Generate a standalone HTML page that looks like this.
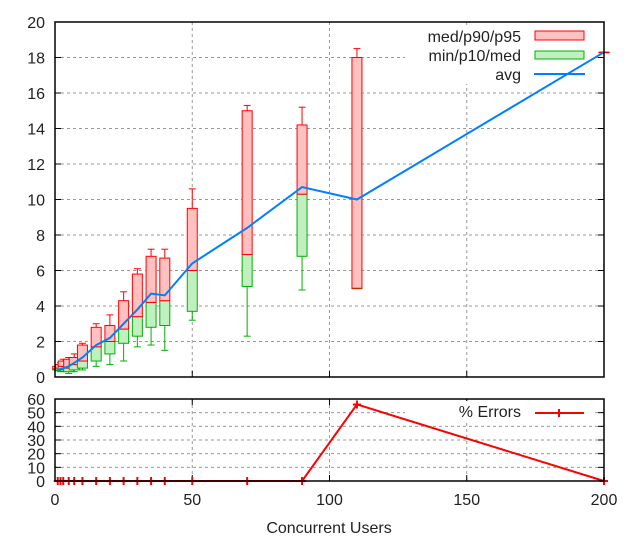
<!DOCTYPE html>
<html><head><meta charset="utf-8"><style>
html,body{margin:0;padding:0;background:#fff}
svg{display:block;font-family:"Liberation Sans","DejaVu Sans",sans-serif}
text{font-size:16px;fill:#222}
</style></head><body>
<svg id="c" width="640" height="540" viewBox="0 0 640 540"></svg>
<script>
const users=[1,2,3,5,7,10,15,20,25,30,35,40,50,70,90,110,200];
const minV=[0.35,0.3,0.3,0.2,0.3,0.4,0.6,0.7,0.9,1.7,1.8,1.5,3.2,2.3,4.9,5.0,18.3];
const p10V=[0.4,0.4,0.4,0.3,0.4,0.5,0.9,1.3,1.9,2.3,2.8,2.9,3.7,5.1,6.8,5.0,18.3];
const medV=[0.45,0.5,0.6,0.5,0.7,0.9,1.7,2.0,2.7,3.4,4.2,4.3,6.0,6.9,10.3,5.0,18.3];
const p90V=[0.6,0.7,0.9,1.0,1.1,1.8,2.8,2.9,4.3,5.8,6.8,6.7,9.5,15.0,14.2,18.0,18.3];
const p95V=[0.7,0.8,1.0,1.1,1.3,1.9,3.0,3.5,4.8,6.1,7.2,7.2,10.6,15.3,15.2,18.5,18.3];
const avgV=[0.4,0.45,0.5,0.6,0.8,1.1,1.8,2.2,3.0,3.8,4.7,4.6,6.4,8.4,10.7,10.0,18.3];
const errV=[0,0,0,0,0,0,0,0,0,0,0,0,0,0,0,56,0];
const xTicks=[0,50,100,150,200];
const yTicks=[0,2,4,6,8,10,12,14,16,18,20];
const eTicks=[0,10,20,30,40,50,60];

const NS="http://www.w3.org/2000/svg";
const svg=document.getElementById('c');
function el(t,a,p){const e=document.createElementNS(NS,t);for(const k in a)e.setAttribute(k,a[k]);(p||svg).appendChild(e);return e;}
const L=55,R=604,T=22,B=377,ET=399,EB=481;
const X=v=>L+(v/200)*(R-L);
const Y=v=>B-(v/20)*(B-T);
const EY=v=>EB-(v/60)*(EB-ET);

// grids
yTicks.forEach(t=>{if(t>0&&t<20){const g=el('line',{x1:L,x2:R,y1:Y(t),y2:Y(t),stroke:'#999','stroke-dasharray':'3,3','stroke-width':1});}
 const l=el('text',{x:L-10,y:Y(t)+6,'text-anchor':'end'});l.textContent=t;
 el('line',{x1:L,x2:L+6,y1:Y(t),y2:Y(t),stroke:'#000'});el('line',{x1:R,x2:R-6,y1:Y(t),y2:Y(t),stroke:'#000'});});
xTicks.forEach(t=>{if(t>0&&t<200){const g=el('line',{x1:X(t),x2:X(t),y1:T,y2:B,stroke:'#999','stroke-dasharray':'3,3'});
 const g2=el('line',{x1:X(t),x2:X(t),y1:ET,y2:EB,stroke:'#999','stroke-dasharray':'3,3'});}
 el('line',{x1:X(t),x2:X(t),y1:B,y2:B-6,stroke:'#000'});el('line',{x1:X(t),x2:X(t),y1:EB,y2:EB-6,stroke:'#000'});el('line',{x1:X(t),x2:X(t),y1:ET,y2:ET+6,stroke:'#000'});
 const l=el('text',{x:X(t),y:EB+24,'text-anchor':'middle'});l.textContent=t;});
eTicks.forEach(t=>{if(t>0&&t<60){el('line',{x1:L,x2:R,y1:EY(t),y2:EY(t),stroke:'#999','stroke-dasharray':'3,3'});}
 const l=el('text',{x:L-10,y:EY(t)+6,'text-anchor':'end'});l.textContent=t;
 el('line',{x1:L,x2:L+6,y1:EY(t),y2:EY(t),stroke:'#000'});el('line',{x1:R,x2:R-6,y1:EY(t),y2:EY(t),stroke:'#000'});});

// legend backgrounds (hide grid only)
el('rect',{x:405,y:26,width:190,height:58,fill:'#fff'});
el('rect',{x:405,y:401,width:190,height:20,fill:'#fff'});

// boxes
const bw=10,cw=7;
users.forEach((u,i)=>{
 const cx=X(u);
 const g=el('g',{});
 el('line',{x1:cx,x2:cx,y1:Y(minV[i]),y2:Y(p10V[i]),stroke:'#00b000','stroke-width':1},g);
 el('line',{x1:cx-cw/2,x2:cx+cw/2,y1:Y(minV[i]),y2:Y(minV[i]),stroke:'#00b000'},g);
 el('rect',{x:cx-bw/2,y:Y(medV[i]),width:bw,height:Math.max(0.5,Y(p10V[i])-Y(medV[i])),fill:'#c0f0c0',stroke:'#00b000'},g);
 el('line',{x1:cx,x2:cx,y1:Y(p95V[i]),y2:Y(p90V[i]),stroke:'#f00'},g);
 el('line',{x1:cx-cw/2,x2:cx+cw/2,y1:Y(p95V[i]),y2:Y(p95V[i]),stroke:'#f00'},g);
 el('rect',{x:cx-bw/2,y:Y(p90V[i]),width:bw,height:Math.max(0.5,Y(medV[i])-Y(p90V[i])),fill:'#ffc0c0',stroke:'#f00'},g);
});
const avg=el('polyline',{points:users.map((u,i)=>X(u)+','+Y(avgV[i])).join(' '),fill:'none',stroke:'#0080ff','stroke-width':2});


const err=el('polyline',{points:users.map((u,i)=>X(u)+','+EY(errV[i])).join(' '),fill:'none',stroke:'#f00','stroke-width':2});

users.forEach((u,i)=>{const m=el('path',{d:`M${X(u)-4},${EY(errV[i])}h8M${X(u)},${EY(errV[i])-4}v8`,stroke:'#f00','stroke-width':2});});

const f1=el('rect',{x:L,y:T,width:R-L,height:B-T,fill:'none',stroke:'#000','stroke-width':1.5});
const f2=el('rect',{x:L,y:ET,width:R-L,height:EB-ET,fill:'none',stroke:'#000','stroke-width':1.5});

function leg(y,label,name){const t=el('text',{x:521,y:y+6,'text-anchor':'end'});t.textContent=label;}
leg(36,'med/p90/p95','legend-entry-red');el('rect',{x:535,y:31,width:49,height:9,fill:'#ffc0c0',stroke:'#f00'});
leg(55,'min/p10/med','legend-entry-green');el('rect',{x:535,y:51,width:49,height:8,fill:'#c0f0c0',stroke:'#00b000'});
leg(74,'avg','legend-entry-avg');el('line',{x1:534,x2:585,y1:74,y2:74,stroke:'#0080ff','stroke-width':2});
leg(411,'% Errors','legend-entry-errors');el('path',{d:'M535,413h49M559,409v8',stroke:'#f00','stroke-width':2});

const xt=el('text',{x:329,y:533,'text-anchor':'middle'});xt.textContent='Concurrent Users';
</script>
</body></html>
